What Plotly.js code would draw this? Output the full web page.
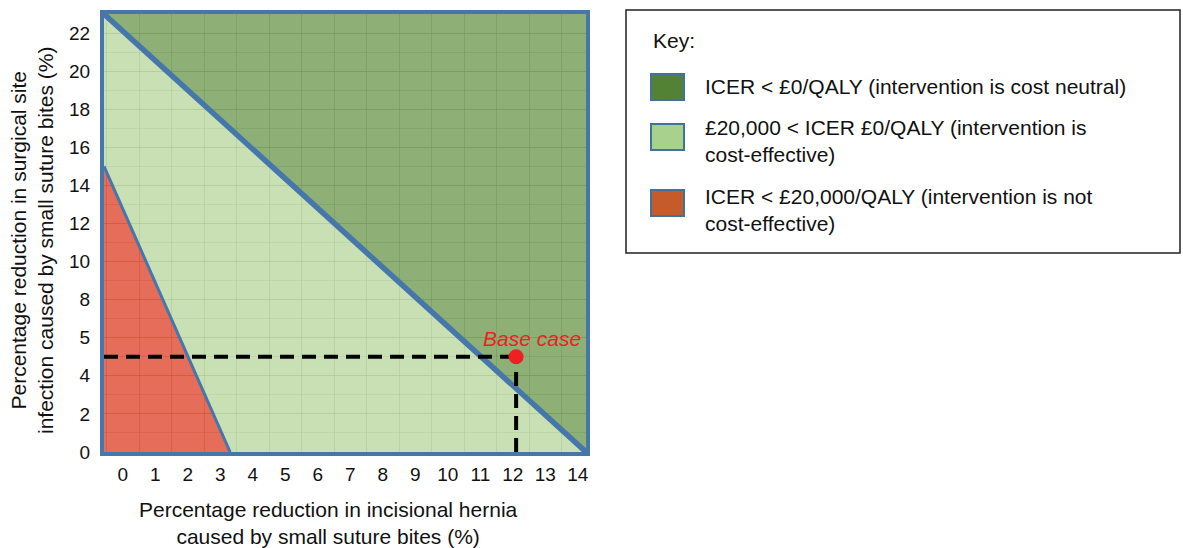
<!DOCTYPE html>
<html>
<head>
<meta charset="utf-8">
<script src="https://cdn.plot.ly/plotly-3.0.1.min.js"></script>
<style>html,body{margin:0;padding:0;background:#fff;}#chart{width:1183px;height:548px;}</style>
</head>
<body>
<div id="chart"></div>
<script>
// ---- data ----
const xTickVals = [0,1,2,3,4,5,6,7,8,9,10,11,12,13,14];
const yTickVals = [0,2,4,6,8,10,12,14,16,18,20,22];
const yTickText = ['0','2','4','5','8','10','12','14','16','18','20','22'];
const xMin = -0.58, xMax = 14.25, yMax = 23;
// cost-neutral boundary (ICER = £0/QALY)
const neutralX = [-0.58, 14.25];
const neutralY = [23, 0];
// cost-effectiveness threshold boundary (ICER = £20,000/QALY)
const thresholdX = [-0.58, 3.3];
const thresholdY = [15, 0];
// base case
const baseX = [12.1];
const baseY = [5];
const keyLabels = [
  'ICER < £0/QALY (intervention is cost neutral)',
  '£20,000 < ICER £0/QALY (intervention is<br>cost-effective)',
  'ICER < £20,000/QALY (intervention is not<br>cost-effective)'
];
const keyColors = ['#548235', '#A9D18E', '#C55A2B'];

const FONT = 'Arial, "Liberation Sans", sans-serif';
const BLUE = '#4676AA';

const traces = [
  { // dark green: cost neutral
    x: [neutralX[0], xMax, neutralX[1], neutralX[0]],
    y: [neutralY[0], yMax, neutralY[1], neutralY[0]],
    fill: 'toself', fillcolor: 'rgba(114,156,84,0.8)', mode: 'lines',
    line: {width: 0}, hoverinfo: 'skip', showlegend: false
  },
  { // light green: cost effective
    x: [thresholdX[0], neutralX[0], neutralX[1], thresholdX[1], thresholdX[0]],
    y: [thresholdY[0], neutralY[0], neutralY[1], thresholdY[1], thresholdY[0]],
    fill: 'toself', fillcolor: 'rgba(186,216,161,0.8)', mode: 'lines',
    line: {width: 0}, hoverinfo: 'skip', showlegend: false
  },
  { // red: not cost effective
    x: [xMin, thresholdX[0], thresholdX[1], xMin],
    y: [0, thresholdY[0], thresholdY[1], 0],
    fill: 'toself', fillcolor: 'rgba(224,72,48,0.8)', mode: 'lines',
    line: {width: 0}, hoverinfo: 'skip', showlegend: false
  },
  { x: neutralX, y: neutralY, mode: 'lines', line: {color: BLUE, width: 5.5}, hoverinfo: 'skip', showlegend: false },
  { x: thresholdX, y: thresholdY, mode: 'lines', line: {color: BLUE, width: 3}, hoverinfo: 'skip', showlegend: false },
  { // horizontal dashed guide
    x: [xMin, baseX[0]], y: [baseY[0], baseY[0]], mode: 'lines',
    line: {color: '#000', width: 4, dash: '14px,8px'}, hoverinfo: 'skip', showlegend: false
  },
  { // vertical dashed guide
    x: [baseX[0], baseX[0]], y: [0, baseY[0]], mode: 'lines',
    line: {color: '#000', width: 4, dash: '14px,8px'}, hoverinfo: 'skip', showlegend: false
  },
  { x: baseX, y: baseY, mode: 'markers', marker: {color: '#EE2024', size: 15}, showlegend: false }
];

// paper coordinate helpers for the key box (plot area: l=104, r=3, t=14, b=96)
const px = v => (v - 104) / 1076;
const py = v => (452 - v) / 438;

const shapes = [
  {type: 'rect', xref: 'paper', yref: 'paper', x0: px(626), x1: px(1180), y0: py(253), y1: py(10),
   line: {color: '#222', width: 1.5}, fillcolor: 'rgba(0,0,0,0)'}
];
const swY = [[74,100],[124,150],[190,216]];
const txY = [86, 141, 210];
const annotations = [
  {xref: 'paper', yref: 'paper', x: px(651), y: py(40), xanchor: 'left', yanchor: 'middle',
   text: 'Key:', showarrow: false, font: {family: FONT, size: 21, color: '#111'}},
  {xref: 'paper', yref: 'paper', x: px(328), y: py(523), xanchor: 'center', yanchor: 'middle',
   text: 'Percentage reduction in incisional hernia<br>caused by small suture bites (%)', showarrow: false,
   font: {family: FONT, size: 21, color: '#111'}},
  {xref: 'paper', yref: 'paper', x: px(32), y: py(240), xanchor: 'center', yanchor: 'middle', textangle: -90,
   text: 'Percentage reduction in surgical site<br>infection caused by small suture bites (%)', showarrow: false,
   font: {family: FONT, size: 21, color: '#111'}},
  {x: baseX[0], y: baseY[0], xref: 'x', yref: 'y', text: '<i>Base case</i>', showarrow: false,
   xshift: 16, yshift: 18, font: {family: FONT, size: 21, color: '#EE2024'}}
];
keyLabels.forEach((t, i) => {
  shapes.push({type: 'rect', xref: 'paper', yref: 'paper', x0: px(651), x1: px(684), y0: py(swY[i][1]), y1: py(swY[i][0]),
    line: {color: '#41719C', width: 2}, fillcolor: keyColors[i]});
  annotations.push({xref: 'paper', yref: 'paper', x: px(703), y: py(txY[i]), xanchor: 'left', yanchor: 'middle',
    align: 'left', text: t, showarrow: false, font: {family: FONT, size: 21, color: '#111'}});
});

const layout = {
  width: 1183, height: 548,
  margin: {l: 104, r: 3, t: 14, b: 96, pad: 0},
  paper_bgcolor: '#fff', plot_bgcolor: '#fff',
  font: {family: FONT, size: 19, color: '#111'},
  xaxis: {
    domain: [0, (586 - 104) / 1076],
    range: [xMin, xMax], tickmode: 'array', tickvals: xTickVals,
    ticks: '', showgrid: false, zeroline: false,
    showline: true, mirror: true, linecolor: BLUE, linewidth: 4,
    tickfont: {family: FONT, size: 19, color: '#111'}, ticklabelstandoff: 2,
    minor: {tickmode: 'linear', tick0: 0.5, dtick: 1, showgrid: true, gridcolor: 'rgba(110,140,100,0.55)', gridwidth: 1, ticks: ''}
  },
  yaxis: {
    range: [0, yMax], tickmode: 'array', tickvals: yTickVals, ticktext: yTickText,
    ticks: '', showgrid: true, gridcolor: 'rgba(110,140,100,0.55)', gridwidth: 1, zeroline: false,
    showline: true, mirror: true, linecolor: BLUE, linewidth: 4,
    tickfont: {family: FONT, size: 19, color: '#111'}, ticklabelstandoff: 6,
    minor: {tickmode: 'linear', tick0: 0, dtick: 1, showgrid: true, gridcolor: 'rgba(110,140,100,0.4)', gridwidth: 1, ticks: ''}
  },
  shapes: shapes,
  annotations: annotations,
  showlegend: false
};

Plotly.newPlot('chart', traces, layout, {staticPlot: true, displayModeBar: false});
</script>
</body>
</html>
